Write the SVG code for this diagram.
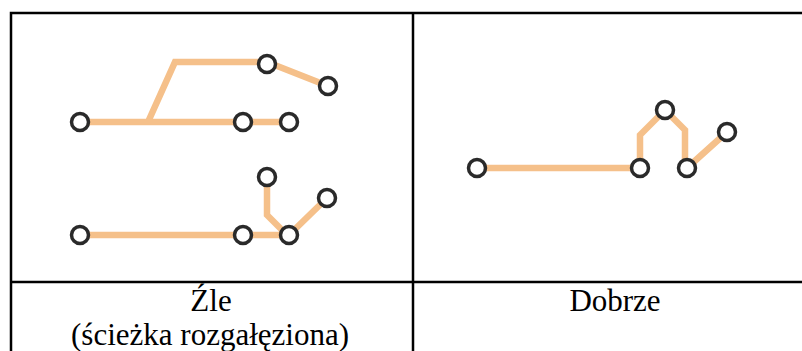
<svg xmlns="http://www.w3.org/2000/svg" width="802" height="351" viewBox="0 0 802 351" font-family="Liberation Serif, serif">
<defs>
<style>
.grid{stroke:#000;stroke-width:2.5;fill:none}
.path{stroke:#f5c08a;stroke-width:6.5;fill:none;stroke-linejoin:miter;stroke-linecap:butt}
.node{fill:#fff;stroke:#2a2a2a;stroke-width:3.5}
.lbl{font-family:"Liberation Serif",serif;font-size:31px;text-anchor:middle;fill:#000}
</style>
</defs>
<rect width="802" height="351" fill="#fff"/>
<g id="table">
<path class="grid" d="M11,351 V13 H802 M413,13 V351 M11,282 H802"/>
</g>
<g id="connectors">
<path class="path" d="M80,122 H243 M148,122 L175,62 H267 L328,86 M243,122 H289"/>
<path class="path" d="M80,235 H289 M267,177 V215 L287,235 M289,235 L327,198"/>
<path class="path" d="M477,168 H640 M640,168 V135 L665,110 L685,130 V168 M687,168 L727,132"/>
</g>
<g id="bad-nodes">
<circle class="node" cx="80" cy="122" r="8.5"/>
<circle class="node" cx="243" cy="122" r="8.5"/>
<circle class="node" cx="289" cy="122" r="8.5"/>
<circle class="node" cx="267" cy="64" r="8.5"/>
<circle class="node" cx="328" cy="86" r="8.5"/>
<circle class="node" cx="80" cy="235" r="8.5"/>
<circle class="node" cx="243" cy="235" r="8.5"/>
<circle class="node" cx="289" cy="235" r="8.5"/>
<circle class="node" cx="267" cy="177" r="8.5"/>
<circle class="node" cx="327" cy="198" r="8.5"/>
</g>
<g id="good-nodes">
<circle class="node" cx="477" cy="168" r="8.5"/>
<circle class="node" cx="640" cy="168" r="8.5"/>
<circle class="node" cx="687" cy="168" r="8.5"/>
<circle class="node" cx="665" cy="110" r="8.5"/>
<circle class="node" cx="727" cy="132" r="8.5"/>
</g>
<g id="labels">
<text class="lbl" x="211" y="311">Źle</text>
<text class="lbl" x="210" y="345">(ścieżka rozgałęziona)</text>
<text class="lbl" x="615" y="311">Dobrze</text>
</g>
</svg>
